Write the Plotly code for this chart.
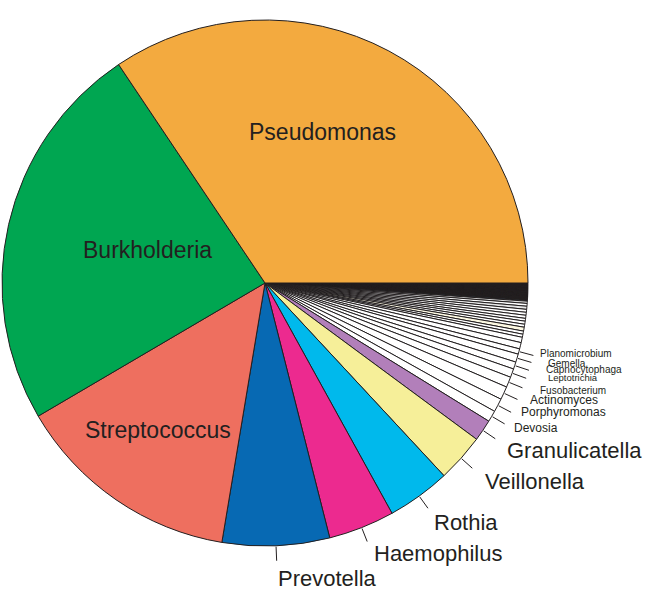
import math
import plotly.graph_objects as go

# relative abundance (%) of genera, counter-clockwise from 3 o'clock
genera = [
    "Pseudomonas", "Burkholderia", "Streptococcus", "Prevotella", "Haemophilus",
    "Rothia", "Veillonella", "Granulicatella", "Devosia", "Porphyromonas",
    "Actinomyces", "Fusobacterium", "Leptotrichia", "Capnocytophaga", "Gemella",
    "Planomicrobium",
]
genus_pct = [
    34.38, 24.04, 13.92, 6.58, 4.06,
    3.89, 2.96, 1.32, 0.69, 0.83,
    0.81, 0.64, 0.53, 0.44, 0.50,
    0.33,
]
genus_colors = [
    "#f3aa3f", "#00a651", "#ee6f5f", "#0769b3", "#ec2a8f",
    "#00b9ec", "#f6ef99", "#b27fba", "white", "white",
    "white", "white", "white", "white", "white",
    "white",
]

# unlabelled minor genera (white wedges), then one light blue wedge
minor_pct = [0.39, 0.33, 0.19, 0.19, 0.24, 0.18, 0.19, 0.17, 0.19, 0.18, 0.18, 0.19, 0.17, 0.14, 0.04]
minor_colors = ["white", "white", "white", "white", "#fdf9e3", "white", "white", "white",
                "white", "white", "white", "#e6e6e6", "white", "#dcdcdc", "#7fbedd"]

# very rare genera, too thin to see individually (dark band)
rare_pct = [0.05, 0.04, 0.03, 0.03, 0.04, 0.03, 0.02, 0.03, 0.03, 0.04, 0.03, 0.02,
            0.03, 0.03, 0.02, 0.03, 0.04, 0.03, 0.02, 0.03, 0.03, 0.02, 0.03, 0.03,
            0.02, 0.03, 0.02, 0.03, 0.03, 0.02, 0.03, 0.02, 0.03, 0.02, 0.03, 0.02, 0.03]

labels = (genera
          + [f"minor_{i}" for i in range(len(minor_pct))]
          + [f"rare_{i}" for i in range(len(rare_pct))])
values = genus_pct + minor_pct + rare_pct
colors = genus_colors + minor_colors + ["#262223"] * len(rare_pct)

W, H = 666, 606
CX, CY, R = 265, 283, 263
INK = "#231f20"
FONT = "Liberation Sans, Arial, sans-serif"

# label placement (pixel positions) and sizes; inside labels are centred
label_style = {
    "Pseudomonas": (322, 132, 23, "center"),
    "Burkholderia": (147, 250, 23, "center"),
    "Streptococcus": (158, 430, 23, "center"),
    "Prevotella": (276, 578, 22, "left"),
    "Haemophilus": (372, 553, 22, "left"),
    "Rothia": (432, 522, 22, "left"),
    "Veillonella": (483, 481, 22, "left"),
    "Granulicatella": (505, 450, 22, "left"),
    "Devosia": (512, 428, 12, "left"),
    "Porphyromonas": (519, 412, 12, "left"),
    "Actinomyces": (528, 400, 12, "left"),
    "Fusobacterium": (538, 390, 10, "left"),
    "Leptotrichia": (546, 377, 9.5, "left"),
    "Capnocytophaga": (544, 370, 10, "left"),
    "Gemella": (546, 363, 10, "left"),
    "Planomicrobium": (538, 353, 10, "left"),
}
outside = genera[3:]


def px(x, y):
    return x / W, 1 - y / H


fig = go.Figure()
# drawn clockwise from 3 o'clock in reverse order, so the list order
# reads counter-clockwise from 3 o'clock as in the original figure
fig.add_trace(
    go.Pie(
        labels=labels[::-1],
        values=values[::-1],
        sort=False,
        direction="clockwise",
        rotation=90,
        textinfo="none",
        hoverinfo="label+percent",
        marker=dict(colors=colors[::-1], line=dict(color=INK, width=1)),
        domain=dict(x=[(CX - R) / W, (CX + R) / W], y=[1 - (CY + R) / H, 1 - (CY - R) / H]),
        showlegend=False,
    )
)

# leader ticks for outside labels, at each wedge's middle angle
total = sum(values)
cum = 0
shapes = []
for lab, v in zip(labels, values):
    if lab in outside:
        a = math.radians((cum + v / 2) / total * 360)
        x0, y0 = px(CX + (R + 1) * math.cos(a), CY - (R + 1) * math.sin(a))
        x1, y1 = px(CX + (R + 15) * math.cos(a), CY - (R + 15) * math.sin(a))
        shapes.append(dict(type="line", xref="paper", yref="paper",
                           x0=x0, y0=y0, x1=x1, y1=y1,
                           line=dict(color=INK, width=1)))
    cum += v

annotations = []
for lab in genera:
    lx, ly, size, anchor = label_style[lab]
    x, y = px(lx, ly)
    annotations.append(dict(text=lab, x=x, y=y, xref="paper", yref="paper",
                            xanchor=anchor, yanchor="middle", showarrow=False,
                            font=dict(family=FONT, size=size, color=INK)))

fig.update_layout(
    width=W,
    height=H,
    margin=dict(l=0, r=0, t=0, b=0),
    paper_bgcolor="white",
    plot_bgcolor="white",
    shapes=shapes,
    annotations=annotations,
)

# drop the browser's default page margin so the figure sits at the top-left
fig.write_html(
    "out.html",
    config={"displayModeBar": False},
    post_script="document.body.style.margin = '0';",
)
